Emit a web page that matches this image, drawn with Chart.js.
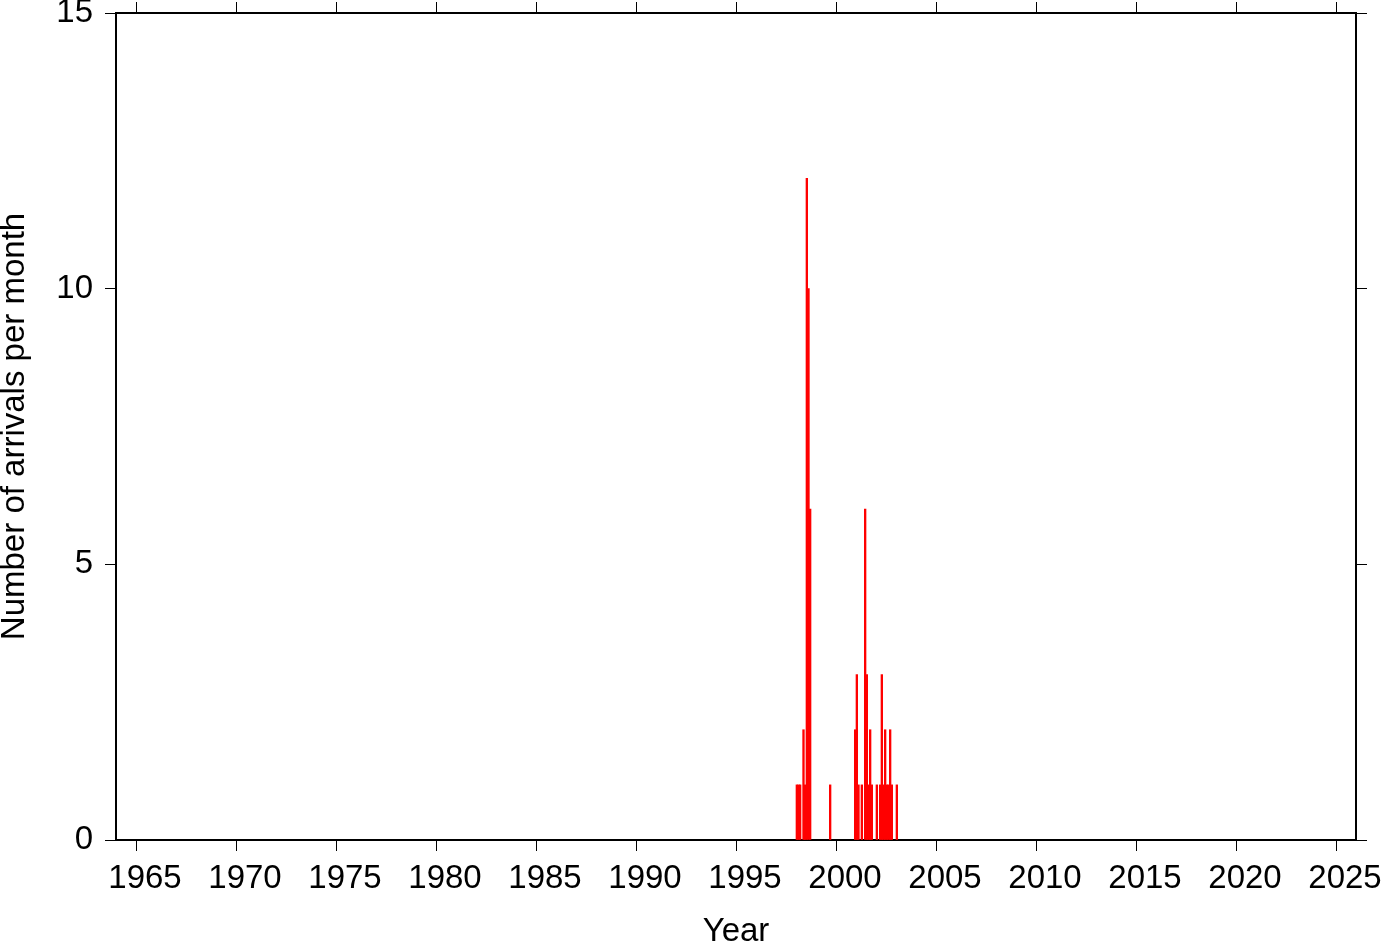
<!DOCTYPE html>
<html>
<head>
<meta charset="utf-8">
<script src="https://cdn.jsdelivr.net/npm/chart.js"></script>
<style>
  body { margin: 0; background: #fff; }
  canvas { display: block; }
</style>
</head>
<body>
<canvas id="myChart" width="1382" height="942"></canvas>
<script>
// monthly arrival counts (only months with arrivals)
const months = [
  '1998-01', '1998-02', '1998-03', '1998-05', '1998-06', '1998-07', '1998-08', '1998-09',
  '1999-09',
  '2000-12',
  '2001-01', '2001-02', '2001-04', '2001-06', '2001-07', '2001-08', '2001-09', '2001-10',
  '2002-01', '2002-03', '2002-04', '2002-05', '2002-06', '2002-07', '2002-08', '2002-09', '2002-10',
  '2003-01'
];
const counts = [
  1, 1, 1, 2, 1, 12, 10, 6,
  1,
  2,
  3, 1, 1, 6, 3, 1, 2, 1,
  1, 1, 3, 1, 2, 1, 1, 2, 1,
  1
];
const yearTicks = [1965, 1970, 1975, 1980, 1985, 1990, 1995, 2000, 2005, 2010, 2015, 2020, 2025];
const countTicks = [0, 5, 10, 15];
const xRange = [1964, 2026];
const yRange = [0, 15];

// month -> decimal year at middle of the month
const points = months.map((m, i) => {
  const [yy, mm] = m.split('-').map(Number);
  return { x: yy + (mm - 1) / 12 + 1 / 24, y: counts[i] };
});

const fam = "'Liberation Sans', Arial, sans-serif";
const tickFont = { family: fam, size: 33 };
const titleFont = { family: fam, size: 33, lineHeight: 1 };

function axis(pos, range, ticks, showLabels, size) {
  const horizontal = pos === 'top' || pos === 'bottom';
  return {
    type: 'linear',
    position: pos,
    min: range[0],
    max: range[1],
    offset: false,
    afterBuildTicks: s => { s.ticks = ticks.map(v => ({ value: v })); },
    afterFit: s => {
      if (horizontal) { s.height = size; s.paddingLeft = 0; s.paddingRight = 0; }
      else { s.width = size; s.paddingTop = 0; s.paddingBottom = 0; }
    },
    ticks: {
      display: showLabels,
      font: tickFont,
      color: '#000',
      padding: horizontal ? 8 : 12,
      labelOffset: horizontal ? 9 : 0,
      maxRotation: 0,
      autoSkip: false,
      callback: v => String(v)
    },
    grid: {
      drawOnChartArea: false,
      drawTicks: true,
      tickLength: 11,
      tickWidth: 1,
      tickColor: '#000',
      offset: false
    },
    border: { display: true, color: '#000', width: 2 }
  };
}

const xAxis = axis('bottom', xRange, yearTicks, true, 102);
xAxis.title = { display: true, text: 'Year', font: titleFont, color: '#000', padding: { top: 0, bottom: -6 } };
const yAxis = axis('left', yRange, countTicks, true, 116);
yAxis.title = { display: true, text: 'Number of arrivals per month', font: titleFont, color: '#000', padding: { top: -2, bottom: 0 } };

const config = {
  type: 'bar',
  data: {
    datasets: [{
      label: 'arrivals',
      data: points,
      backgroundColor: 'rgb(255,0,0)',
      borderWidth: 0,
      barPercentage: 1,
      categoryPercentage: 1
    }]
  },
  options: {
    responsive: false,
    animation: false,
    devicePixelRatio: 1,
    layout: { padding: 0 },
    plugins: { legend: { display: false }, tooltip: { enabled: false } },
    scales: {
      x: xAxis,
      y: yAxis,
      x2: axis('top', xRange, yearTicks, false, 13),
      y2: axis('right', yRange, countTicks, false, 26)
    }
  }
};

const myChart = new Chart(document.getElementById('myChart'), config);
</script>
</body>
</html>
